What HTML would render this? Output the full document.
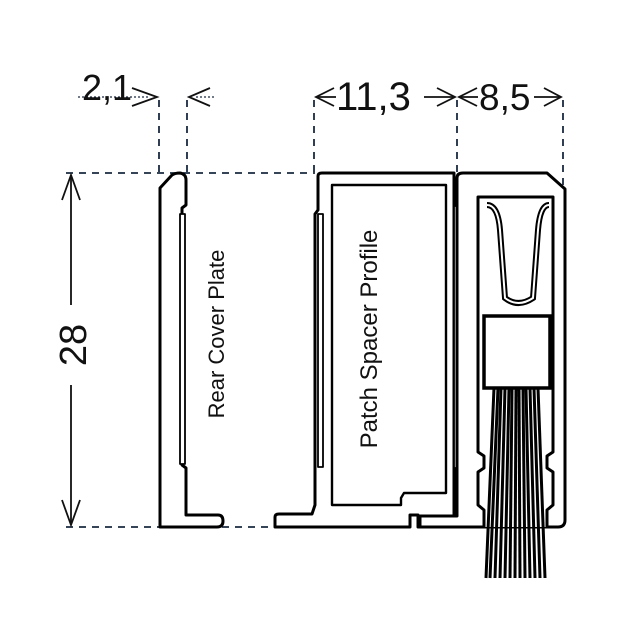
<!DOCTYPE html>
<html><head><style>body{margin:0;background:#fff}svg{display:block}</style></head><body>
<svg width="626" height="626" viewBox="0 0 626 626" xmlns="http://www.w3.org/2000/svg" font-family="Liberation Sans, sans-serif">
<g stroke="#1a2a40" stroke-width="1.8" stroke-dasharray="7,6" fill="none">
<line x1="159" y1="100" x2="159" y2="173"/><line x1="187" y1="100" x2="187" y2="173"/>
<line x1="314" y1="100" x2="314" y2="173"/><line x1="457" y1="100" x2="457" y2="173"/>
<line x1="563" y1="100" x2="563" y2="185"/>
<line x1="66" y1="173" x2="315" y2="173"/>
<line x1="66" y1="527" x2="280" y2="527"/>
</g>
<g stroke="#1a2a40" stroke-width="1.2" stroke-dasharray="2,2" fill="none">
<line x1="78" y1="97" x2="150" y2="97"/><line x1="196" y1="97" x2="216" y2="97"/>
</g>
<g stroke="#111" stroke-width="1.8" fill="none">
<polyline points="132,88 157,97 132,106"/><polyline points="210,88 189,97 210,106"/>
<line x1="316" y1="97" x2="336" y2="97"/><polyline points="334,88 316,97 334,106"/>
<line x1="424" y1="97" x2="455" y2="97"/><polyline points="437,88 455,97 437,106"/>
<line x1="459" y1="97" x2="478" y2="97"/><polyline points="477,88 459,97 477,106"/>
<line x1="534" y1="97" x2="561" y2="97"/><polyline points="544,88 561,97 544,106"/>
<line x1="71" y1="175" x2="71" y2="305"/><line x1="71" y1="385" x2="71" y2="525"/>
<polyline points="62,200 71,175 80,200"/><polyline points="62,500 71,525 80,500"/>
</g>
<g fill="#111">
<text x="82" y="100" font-size="36">2,1</text>
<text x="336" y="110" font-size="40">11,3</text>
<text x="479" y="110" font-size="37">8,5</text>
<text transform="translate(86,345) rotate(-90)" text-anchor="middle" font-size="38">28</text>
</g>
<g stroke="#000" stroke-width="3" fill="#fff" stroke-linejoin="round">
<path d="M160,527 L160,188 L172,175 Q175,173 180,173 Q186,174 186,180 L186,205 L182,208 L182,465 L186,468 L186,515 L218,515 Q223,515 223,521 Q223,527 217,527 Z"/>
<rect x="180" y="214" width="5" height="250" stroke-width="1.8"/>
<path d="M275,527 L275,517 Q275,514 279,514 L312,514 L315,505 L315,214 L318,210 L318,176 Q318,173 322,173 L454,173 L454,527 L418,527 L418,515 L410,515 L410,527 Z"/>
<path d="M332,185 L446,185 L446,493 L404,493 L401,498 L401,505 L332,505 Z" stroke-width="2.4"/>
<rect x="318" y="214" width="5" height="253" stroke-width="1.8"/>
<rect x="454" y="206" width="4" height="262" stroke-width="1.8"/>
<path d="M420,527 L420,516 L457,516 L457,178 Q457,173 463,173 L547,173 L565,189 L565,520 Q565,527 558,527 Z"/>
<path d="M484,527 L484,510 L478,505 L478,472 L484,468 L484,456 L478,452 L478,197 L553,197 L553,452 L547,456 L547,468 L553,472 L553,505 L547,510 L547,527"/>
</g>
<g fill="none">
<path d="M487,205 Q498,205 500,230 L505,298 Q518,308 533,298 L538,230 Q540,205 549,205" stroke="#000" stroke-width="6"/>
<path d="M487,205 Q498,205 500,230 L505,298 Q518,308 533,298 L538,230 Q540,205 549,205" stroke="#fff" stroke-width="2"/>
</g>
<rect x="484" y="316" width="66" height="72" fill="#fff" stroke="#000" stroke-width="3.5"/>
<g stroke="#000" stroke-width="3">
<line x1="494" y1="388" x2="486" y2="578"/><line x1="498" y1="388" x2="490" y2="578"/>
<line x1="501" y1="388" x2="495" y2="578"/><line x1="505" y1="388" x2="500" y2="578"/>
<line x1="509" y1="388" x2="505" y2="578"/><line x1="512" y1="388" x2="510" y2="578"/>
<line x1="516" y1="388" x2="515" y2="578"/><line x1="519" y1="388" x2="520" y2="578"/>
<line x1="523" y1="388" x2="525" y2="578"/><line x1="526" y1="388" x2="530" y2="578"/>
<line x1="530" y1="388" x2="535" y2="578"/><line x1="534" y1="388" x2="540" y2="578"/>
<line x1="538" y1="388" x2="545" y2="578"/>
</g>
<g fill="#111">
<text transform="translate(224,334) rotate(-90)" text-anchor="middle" font-size="22">Rear Cover Plate</text>
<text transform="translate(377,339) rotate(-90)" text-anchor="middle" font-size="24">Patch Spacer Profile</text>
</g>
</svg>
</body></html>
